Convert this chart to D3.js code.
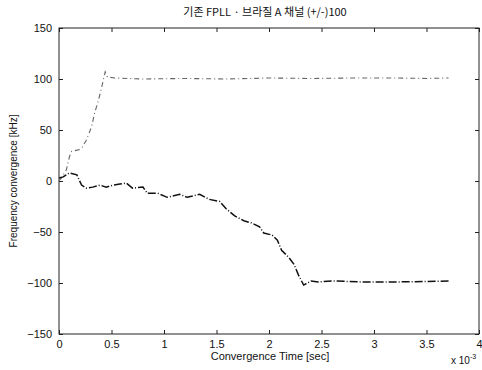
<!DOCTYPE html>
<html>
<head>
<meta charset="utf-8">
<script src="https://cdn.jsdelivr.net/npm/d3@7"></script>
<style>
body{margin:0;background:#fff;}
text{font-family:"Liberation Sans",Arial,sans-serif;fill:#111;}
</style>
</head>
<body>
<script>
// values (time in ms units, x 10^-3 sec)
var upT = [0,0.03,0.07,0.10,0.12,0.20,0.22,0.26,0.31,0.34,0.37,0.40,0.44,0.46,0.53,0.8,1.2,1.6,2.0,2.4,2.8,3.2,3.5,3.71];
var upV = [0,4,11,24,29,31,33,40,53,67,77,89,107,102,101,100,100.5,100,101,100.5,101,101,100.5,101];
var loT = [0,0.04,0.10,0.17,0.215,0.26,0.32,0.39,0.45,0.52,0.58,0.64,0.70,0.80,0.84,0.94,1.03,1.15,1.22,1.34,1.43,1.53,1.59,1.67,1.76,1.83,1.91,1.95,2.03,2.08,2.12,2.19,2.24,2.28,2.33,2.40,2.47,2.60,2.9,3.2,3.5,3.71];
var loV = [3,4,8,6,-4,-7,-6,-4,-6,-4,-3,-2,-7,-6,-12,-12,-16,-13,-16,-13,-18,-20,-27,-34,-39,-41,-45,-51,-53,-58,-68,-75,-82,-92,-102,-98,-99,-98,-99,-99,-98.5,-98];
var xTicks = [0,0.5,1,1.5,2,2.5,3,3.5,4];
var yTicks = [-150,-100,-50,0,50,100,150];

var svgwidth=482,svgheight=370;
var pLeft=59,pRight=479,pTop=28,pBottom=334;

var svg=d3.select("body").append("svg")
	.attr("width",svgwidth)
	.attr("height",svgheight);

var x=d3.scaleLinear().domain([0,4]).range([pLeft,pRight]);
var y=d3.scaleLinear().domain([-150,150]).range([pBottom,pTop]);

// box
svg.append("rect")
	.attr("x",pLeft).attr("y",pTop)
	.attr("width",pRight-pLeft).attr("height",pBottom-pTop)
	.attr("fill","none").attr("stroke","#222").attr("stroke-width",1);

// axes, ticks inward like matlab
svg.append("g").attr("transform","translate(0,"+pBottom+")")
	.call(d3.axisBottom(x).tickValues(xTicks).tickSize(-4).tickPadding(6).tickFormat(d3.format("")))
	.call(g=>g.select(".domain").remove());
svg.append("g").attr("transform","translate(0,"+pTop+")")
	.call(d3.axisTop(x).tickValues(xTicks).tickSize(-4).tickFormat(""))
	.call(g=>g.select(".domain").remove());
svg.append("g").attr("transform","translate("+pLeft+",0)")
	.call(d3.axisLeft(y).tickValues(yTicks).tickSize(-4).tickPadding(7))
	.call(g=>g.select(".domain").remove());
svg.append("g").attr("transform","translate("+pRight+",0)")
	.call(d3.axisRight(y).tickValues(yTicks).tickSize(-4).tickFormat(""))
	.call(g=>g.select(".domain").remove());
svg.selectAll(".tick line").attr("stroke","#222");
svg.selectAll(".tick text").style("font-size","11px").style("fill","#111");

var line=d3.line().x(d=>x(d[0])).y(d=>y(d[1])).curve(d3.curveLinear);

svg.append("path")
	.datum(d3.zip(upT,upV))
	.attr("d",line)
	.attr("fill","none")
	.attr("stroke","#666")
	.attr("stroke-width",1.1)
	.attr("stroke-dasharray","5,3,1,3");

svg.append("path")
	.datum(d3.zip(loT,loV))
	.attr("d",line)
	.attr("fill","none")
	.attr("stroke","#111")
	.attr("stroke-width",1.5)
	.attr("stroke-dasharray","8,2,1,2");

// texts
svg.append("text")
	.attr("x",265).attr("y",16)
	.attr("text-anchor","middle")
	.style("font-family","'Noto Sans CJK KR',sans-serif")
	.style("font-size","11px")
	.text("기존 FPLL · 브라질 A 채널  (+/-)100");

svg.append("text")
	.attr("x",270).attr("y",360)
	.attr("text-anchor","middle")
	.style("font-size","11px")
	.text("Convergence Time [sec]");

svg.append("text")
	.attr("transform","translate(17,181) rotate(-90)")
	.attr("text-anchor","middle")
	.style("font-size","10px")
	.text("Frequency convergence [kHz]");

var e=svg.append("text")
	.attr("x",451).attr("y",364)
	.style("font-size","10px");
e.append("tspan").text("x 10");
e.append("tspan").attr("dy",-5).style("font-size","7px").text("-3");
</script>
</body>
</html>
